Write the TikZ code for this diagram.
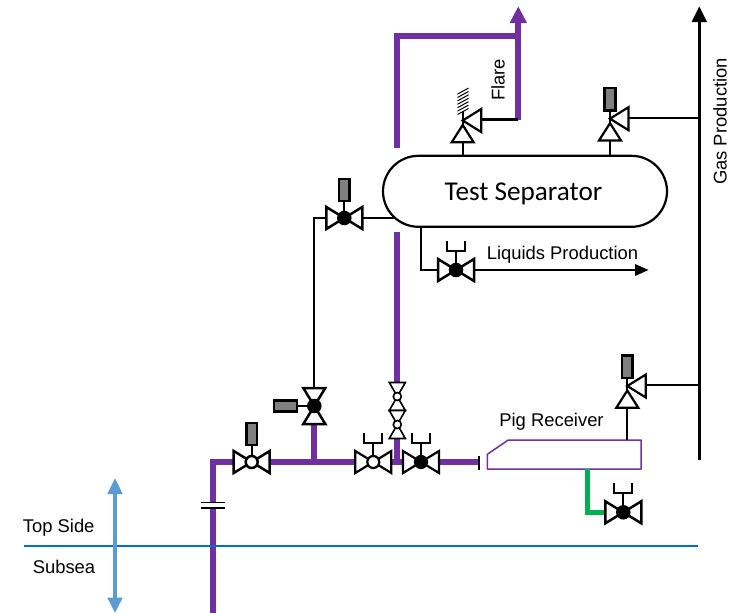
\documentclass[tikz,border=0pt]{standalone}
\usepackage{fontspec}
\setmainfont{Liberation Sans}
\newfontfamily\carlito{Carlito}
\usetikzlibrary{arrows.meta,shapes.misc}
\definecolor{pipepurple}{HTML}{7030A0}
\definecolor{pipegreen}{HTML}{00B050}
\definecolor{seablue}{HTML}{0070C0}
\definecolor{arrowblue}{HTML}{5B9BD5}
\definecolor{actgray}{HTML}{7F7F7F}
\tikzset{
  purplepipe/.style={draw=pipepurple,line width=6pt,line join=miter},
  blackline/.style={draw=black,line width=2.2pt},
  tri/.style={draw=black,fill=white,line width=2.2pt,line join=miter},
  act/.style={draw=black,fill=actgray,line width=2.5pt},
  hand/.style={draw=black,line width=1.8pt},
  lbl/.style={font=\fontsize{18.4}{18.4}\selectfont,inner sep=0pt,text=black},
  pics/valveh/.style args={#1/#2}{code={
    \draw[tri,line width=#2] (-18,-11)--(0,0)--(-18,11)--cycle;
    \draw[tri,line width=#2] (18,-11)--(0,0)--(18,11)--cycle;
    \draw[draw=black,fill=#1,line width=#2] (0,0) circle (6);
  }},
  pics/valvev/.style args={#1/#2}{code={
    \draw[tri,line width=#2] (-11,-18)--(0,0)--(11,-18)--cycle;
    \draw[tri,line width=#2] (-11,18)--(0,0)--(11,18)--cycle;
    \draw[draw=black,fill=#1,line width=#2] (0,0) circle (6);
  }},
  pics/handle/.style={code={
    \draw[hand] (-9,-29)--(-9,-19)--(9,-19)--(9,-29);
    \draw[hand] (0,-19)--(0,0);
  }},
  pics/actup/.style={code={
    \draw[blackline] (0,-16)--(0,0);
    \draw[act] (-5.4,-39)rectangle(5.4,-17);
  }},
  pics/actrelief/.style={code={
    \draw[blackline] (0,-7)--(0,4);
    \draw[act] (-5.4,-29.5)rectangle(5.4,-7);
  }},
  pics/relief/.style={code={
    \draw[tri] (0,1)--(18.5,-10.5)--(18.5,12.5)--cycle;
    \draw[tri] (0,5.5)--(-11,22.8)--(11,22.8)--cycle;
  }},
}
\begin{document}
\begin{tikzpicture}[x=1pt,y=-1pt]
\useasboundingbox (0,0) rectangle (739,613);
% positions
\coordinate (vA) at (251.7,462);
\coordinate (vB) at (314.3,406);
\coordinate (vC) at (373.3,462);
\coordinate (vD) at (421,462);
\coordinate (vE) at (344.3,218);
\coordinate (vF) at (456,270);
\coordinate (vG) at (623.3,512.3);
\coordinate (rFlare) at (462.7,119.5);
\coordinate (rGas) at (610,117.7);
\coordinate (rPig) at (627.3,385);
\coordinate (corner1) at (212.7,462);
\coordinate (bottom1) at (212.7,613);
\coordinate (stop) at (479,462);
\coordinate (teeB) at (314.3,462);
\coordinate (teeD) at (397.3,462);
\coordinate (dblTop) at (397.3,382.5);
\coordinate (gapEnd) at (397.3,232);
\coordinate (flareStart) at (396.7,148);
\coordinate (flareCorner) at (396.7,35.7);
\coordinate (flareJoin) at (518.3,35.7);
\coordinate (flareBottom) at (518.3,119.5);
\coordinate (flareTip) at (518.3,6.5);
\coordinate (gasBottom) at (699.3,460);
\coordinate (gasTip) at (699.3,6.5);
\coordinate (gasJ1) at (699.3,117.7);
\coordinate (gasJ2) at (699.3,385);
\coordinate (liqTip) at (648.5,270);
\coordinate (liqStart) at (420.7,226);
\coordinate (liqCorner) at (420.7,270);
\coordinate (greenStart) at (587.3,469);
\coordinate (greenCorner) at (587.3,512.3);
\coordinate (seaL) at (24,546);
\coordinate (seaR) at (698,546);
% vessels
\node[rounded rectangle,draw=black,line width=2.2pt,fill=white,minimum width=284pt,minimum height=71pt,inner sep=0pt] (sep) at (525,191.3) {};
\node[font=\carlito\fontsize{27.2}{27.2}\selectfont,inner sep=0pt] (sepText) at (523.5,194) {Test Separator};
\draw[draw=pipepurple,line width=1.5pt,line join=round] (487.3,469)--(487.3,454.3)--(508.3,440)--(641,440)--(641,469)--cycle;
\coordinate (pigS) at (627.3,440);
% purple pipes
\draw[purplepipe] (bottom1)--(corner1)--(stop);
\draw[purplepipe] (teeB)--(314.3,420);
\draw[purplepipe] (gapEnd)--(dblTop);
\draw[purplepipe] (397.3,436)--(teeD);
\draw[purplepipe] (flareStart)--(flareCorner)--(flareJoin);
\draw[purplepipe] (flareBottom)--(518.3,22);
\fill[pipepurple] (flareTip)--(527,23)--(509.6,23)--cycle;
% green drain
\draw[draw=pipegreen,line width=4.5pt] (greenStart)--(greenCorner)--(vG);
% black lines
\draw[blackline] (vB)--(314.3,218)--(vE)--(395,218);
\draw[blackline] (liqStart)--(liqCorner)--(vF)--(640,270);
\fill[black] (liqTip)--(635,264)--(635,276)--cycle;
\draw[blackline] (flareBottom)--(rFlare);
\draw[blackline] (rFlare)--(462.7,155.7);
\draw[blackline] (rGas)--(gasJ1);
\draw[blackline] (rGas)--(610,155.7);
\draw[blackline] (rPig)--(gasJ2);
\draw[blackline] (rPig)--(pigS);
\draw[draw=black,line width=2.5pt] (gasBottom)--(699.3,20);
\fill[black] (gasTip)--(707,22)--(691.6,22)--cycle;
% stop cap
\draw[draw=black,line width=2pt] (479.3,456)--(479.3,469.5);
% coupling
\fill[white] (200,502.5) rectangle (225,507.5);
\draw[draw=black,line width=1.6pt] (200.7,502.3)--(224.7,502.3) (200.7,507.7)--(224.7,507.7);
% valves with actuators / handles
\pic at (vA) {actup};
\pic at (vA) {valveh={white/2.5pt}};
\draw[blackline] (vB)--(290,406);
\draw[act] (274,400.6) rectangle (296.8,411.4);
\pic at (vB) {valvev={black/2.5pt}};
\pic at (vC) {handle};
\pic at (vC) {valveh={white/2.2pt}};
\pic at (vD) {handle};
\pic at (vD) {valveh={black/2.2pt}};
\pic at (vE) {actup};
\pic at (vE) {valveh={black/2.5pt}};
\pic at (vF) {handle};
\pic at (vF) {valveh={black/2.5pt}};
\pic at (vG) {handle};
\pic at (vG) {valveh={black/2.5pt}};
% double valve
\begin{scope}[shift={(397.3,396.5)}]
\draw[tri,line width=1.6pt] (-8,-14)--(8,-14)--(0,0)--(-8,14)--(8,14)--(0,0)--cycle;
\draw[draw=black,fill=white,line width=1.6pt] (0,0) circle (4);
\end{scope}
\begin{scope}[shift={(397.3,424.5)}]
\draw[tri,line width=1.6pt] (-8,-14)--(8,-14)--(0,0)--(-8,14)--(8,14)--(0,0)--cycle;
\draw[draw=black,fill=white,line width=1.6pt] (0,0) circle (4);
\end{scope}
% relief valves
\draw[blackline] (rFlare)--+(0,-9);
\draw[draw=black,line width=1pt] \foreach \d in {0,...,6} {(457.5,114.5-\d*3.4)--(468.5,108.5-\d*3.4)};
\pic at (rFlare) {relief};
\pic at (rGas) {actrelief};
\pic at (rGas) {relief};
\pic at (rPig) {actrelief};
\pic at (rPig) {relief};
% sea line and arrows
\draw[draw=seablue,line width=1.6pt] (seaL)--(seaR);
\draw[draw=arrowblue,line width=4pt] (115,490)--(115,601);
\fill[arrowblue] (115,478.3)--(122.7,494)--(107.3,494)--cycle;
\fill[arrowblue] (115,612.7)--(122.7,597.7)--(107.3,597.7)--cycle;
% labels
\node[lbl] (tFlare) at (498,80) [rotate=90] {Flare};
\node[lbl] (tGas) at (720,121.5) [rotate=90] {Gas Production};
\node[lbl] (tLiq) at (562.5,254.5) {Liquids Production};
\node[lbl] (tPig) at (551.5,421.5) {Pig Receiver};
\node[lbl] (tTop) at (58.7,527.5) {Top Side};
\node[lbl] (tSub) at (64,567) {Subsea};
\end{tikzpicture}
\end{document}
